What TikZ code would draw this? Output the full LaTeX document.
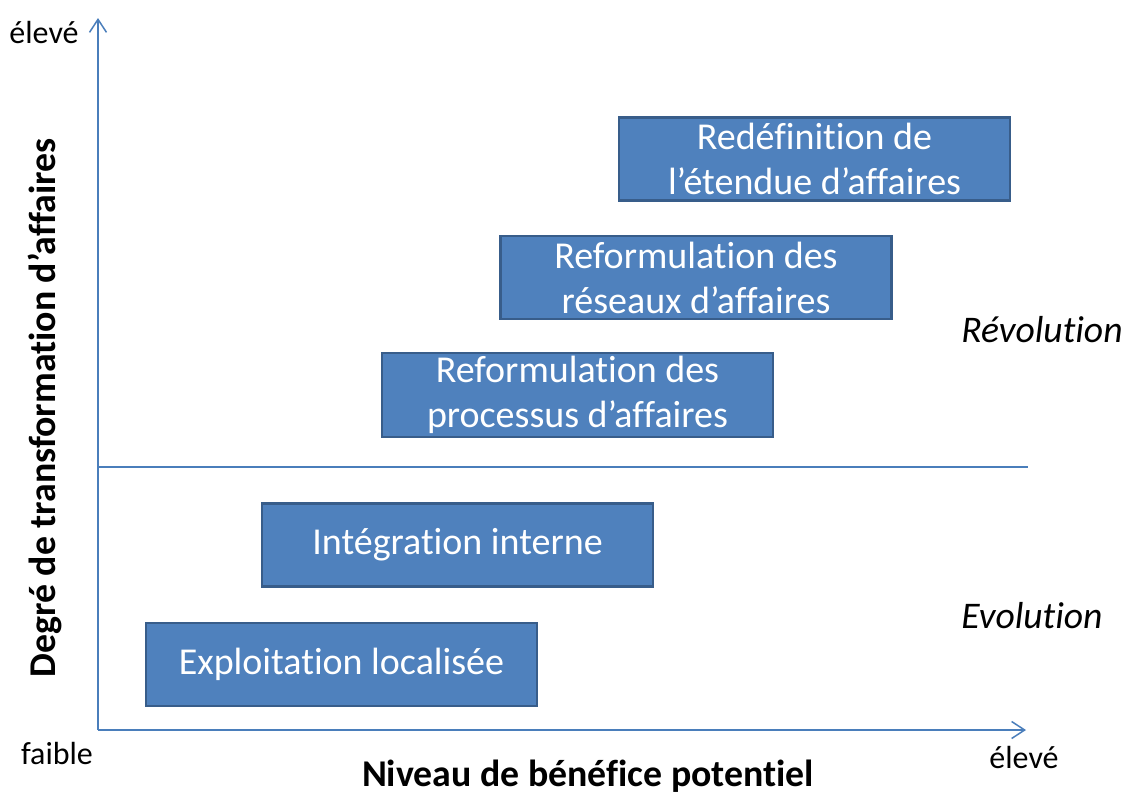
\documentclass[tikz,border=0pt]{standalone}
\usepackage{fontspec}
\setmainfont{Carlito}[Ligatures=NoCommon]
\usepackage{tikz}
\usetikzlibrary{arrows.meta,positioning}

\definecolor{boxfill}{HTML}{4F81BD}
\definecolor{boxline}{HTML}{385D8A}
\definecolor{axisline}{HTML}{4A7EBB}

\begin{document}
\begin{tikzpicture}[x=1pt,y=-1pt,on grid]
       \tikzstyle{box}=[draw=boxline, line width=2.5pt, fill=boxfill, text=white,
                        minimum width=391pt, minimum height=83pt, align=center,
                        font=\fontsize{38}{45}\selectfont]
       \tikzstyle{axis}=[draw=axisline, line width=1.5pt, -{Straight Barb[length=13pt,width=17pt]}]
       \tikzstyle{label}=[font=\fontsize{32}{38}\selectfont]
       \tikzstyle{title}=[font=\fontsize{37.8}{44}\selectfont\bfseries]
       \tikzstyle{phase}=[font=\fontsize{37.6}{44}\selectfont\itshape]

       \useasboundingbox (0,0) rectangle (1129,796);

       % axes
       \coordinate (origin) at (98,730);
       \coordinate (y_top)  at (98,18);
       \coordinate (x_end)  at (1026,730);
       \coordinate (mid_l)  at (98,467);
       \coordinate (mid_r)  at (1028,467);

       \draw[axis] (origin) -- (y_top);
       \draw[axis] (origin) -- (x_end);
       \draw[draw=axisline, line width=1.5pt] (mid_l) -- (mid_r);

       % boxes
       \node[box] (b_1) at (341.5,664.5) {Exploitation localisée};
       \node[box] (b_2) [above right=119.5pt and 116pt of b_1] {Intégration interne};
       \node[box] (b_3) [above right=150pt and 120pt of b_2] {Reformulation des\\processus d’affaires};
       \node[box] (b_4) [above right=117.5pt and 118.5pt of b_3] {Reformulation des\\réseaux d’affaires};
       \node[box] (b_5) [above right=118.5pt and 118.5pt of b_4] {Redéfinition de\\l’étendue d’affaires};

       % labels
       \node[label] (y_high) at (44,32)   {élevé};
       \node[label] (x_low)  at (57,753)  {faible};
       \node[label] (x_high) at (1024,757) {élevé};
       \node[title] (x_title) at (588,776) {Niveau de bénéfice potentiel};
       \node[title, rotate=90] (y_title) at (45,408) {Degré de transformation d’affaires};
       \node[phase] (revo) at (1042,330) {Révolution};
       \node[phase] (evo)  at (1032,616) {Evolution};
\end{tikzpicture}
\end{document}
